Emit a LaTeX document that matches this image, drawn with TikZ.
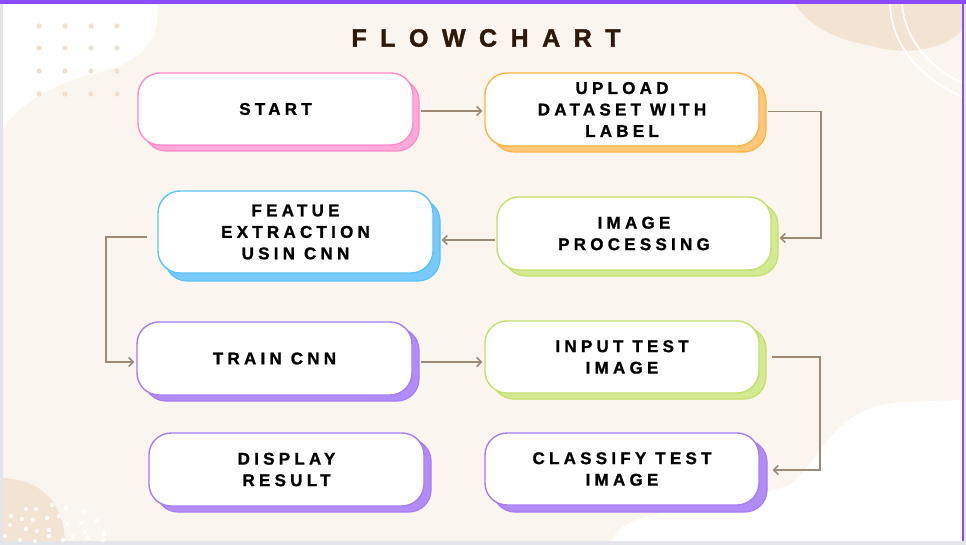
\documentclass[tikz,border=0pt]{standalone}
\usepackage{fontspec}
\usetikzlibrary{arrows.meta,calc}
\newfontfamily\boxfont{Liberation Sans Bold}[LetterSpace=25,FakeBold=1.2]
\newfontfamily\titlefont{Liberation Sans Bold}[LetterSpace=54,FakeBold=1.6]
\definecolor{bgcream}{HTML}{FAF5EF}
\definecolor{beige}{HTML}{F3E3D2}
\definecolor{dotbeige}{HTML}{F2DFCB}
\definecolor{framepurple}{HTML}{8B4CF7}
\definecolor{framegray}{HTML}{E4E5EA}
\definecolor{connc}{HTML}{9C8A77}
\definecolor{titlec}{HTML}{2E1A0A}
\definecolor{pinkb}{HTML}{FF8ACB}\definecolor{pinks}{HTML}{FFA8DA}
\definecolor{orangeb}{HTML}{FFB347}\definecolor{oranges}{HTML}{FFC878}
\definecolor{blueb}{HTML}{5BC2F7}\definecolor{blues}{HTML}{77C9FB}
\definecolor{greenb}{HTML}{C3E06A}\definecolor{greens}{HTML}{D3E992}
\definecolor{purpleb}{HTML}{A77CF5}\definecolor{purples}{HTML}{B18CF7}
\tikzset{
  fcbox/.style={draw=#1, line width=1.4pt, fill=white, rounded corners=22pt,
    align=center, inner sep=0pt, text=black,
    font=\boxfont\fontsize{17}{21.5}\selectfont},
  fcshadow/.style={draw=#1b, fill=#1s, line width=1.2pt, rounded corners=22pt},
  conn/.style={draw=connc, line width=1.8pt},
  arr/.style={conn, -{Straight Barb[length=4.5pt,width=9pt,line width=1.6pt]}},
}
% name, cx, cy, w, h, colour, dx, dy, text
\newcommand{\fcnode}[9]{%
  \path[fcshadow=#6] ($(#2,#3)+(-#4/2+#7,-#5/2+#8)$) rectangle ($(#2,#3)+(#4/2+#7,#5/2+#8)$);
  \node[fcbox=#6b, minimum width=#4pt, minimum height=#5pt] (#1) at (#2,#3) {#9};
}
\begin{document}
\begin{tikzpicture}[x=1pt,y=-1pt]
\useasboundingbox (0,0) rectangle (966,545);
% background
\fill[framegray] (0,0) rectangle (966,545);
\fill[bgcream] (3,4) rectangle (962,541);
% top-left white blob
\fill[white] (3,4) -- (157,4) .. controls (162,40) and (140,62) .. (100,72) .. controls (50,84) and (20,104) .. (3,128) -- cycle;
% dots top-left
\foreach \x in {39,65,91,117} \foreach \y in {26,48,71,94} \fill[dotbeige] (\x,\y) circle (2.6);
% top-right beige blob
\fill[beige] (795,4) .. controls (812,30) and (840,40) .. (872,46) .. controls (905,56) and (945,50) .. (962,30) -- (962,4) -- cycle;
% white arcs
\draw[white, line width=1.8pt] (890,4) .. controls (892,50) and (925,80) .. (962,97);
\draw[white, line width=1.8pt] (902,4) .. controls (905,40) and (930,68) .. (962,83);
% bottom-right white blob
\fill[white] (612,541) .. controls (625,505) and (700,515) .. (790,485) .. controls (830,450) and (830,410) .. (900,402) -- (962,400) -- (962,541) -- cycle;
% bottom-left beige blob
\fill[beige] (3,478) .. controls (35,480) and (62,495) .. (65,541) -- (3,541) -- cycle;
\foreach \p in {(11,516),(26,509),(36,509),(52,505),(22,519),(33,520),(47,518),(59,516),(66,508),(84,511),(10,525),(26,529),(37,531),(49,530),(49,536),(67,524),(81,523),(97,521),(5,536),(20,540),(35,541),(73,537),(85,532),(104,534),(63,540),(88,539),(103,540)}
  \fill[white] \p circle (2.1);
% frame top
\fill[framepurple] (0,0) rectangle (966,4);
\fill[framepurple] (962,4) rectangle (963.5,541);
% title
\node[font=\titlefont\fontsize{25}{30}\selectfont, text=titlec] (title) at (486,38) {FLOWCHART};
% nodes
\fcnode{start}{275.5}{109}{275}{72}{pink}{6}{6}{START}
\fcnode{upload}{622}{109.5}{274}{73}{orange}{7}{6}{UPLOAD\\DATASET WITH\\LABEL}
\fcnode{feat}{295.5}{232}{275}{82}{blue}{7}{8}{FEATUE\\EXTRACTION\\USIN CNN}
\fcnode{improc}{634}{233.5}{274}{73}{green}{7}{6}{IMAGE\\PROCESSING}
\fcnode{train}{274.5}{358.5}{275}{73}{purple}{7}{6}{TRAIN CNN}
\fcnode{input}{622}{357}{274}{72}{green}{7}{6}{INPUT TEST\\IMAGE}
\fcnode{display}{286.5}{469.5}{275}{73}{purple}{7}{6}{DISPLAY\\RESULT}
\fcnode{classify}{622}{469}{274}{72}{purple}{8}{7}{CLASSIFY TEST\\IMAGE}
% connectors
\draw[arr] ($(start.east)+(7,2)$) -- ($(upload.west)+(-2,1.5)$);
\draw[arr] ($(upload.east)+(8,2)$) -- ++(53,0) |- ($(improc.east)+(8,4.5)$);
\draw[arr] ($(improc.west)+(-1,6.5)$) -- ($(feat.east)+(8,8)$);
\draw[arr] ($(feat.west)+(-10,5)$) -- ++(-41,0) |- ($(train.west)+(-2,3.5)$);
\draw[arr] ($(train.east)+(8,3.5)$) -- ($(input.west)+(-2,5)$);
\draw[arr] ($(input.east)+(12,0)$) -- ++(48,0) |- ($(classify.east)+(13,1)$);
\end{tikzpicture}
\end{document}
